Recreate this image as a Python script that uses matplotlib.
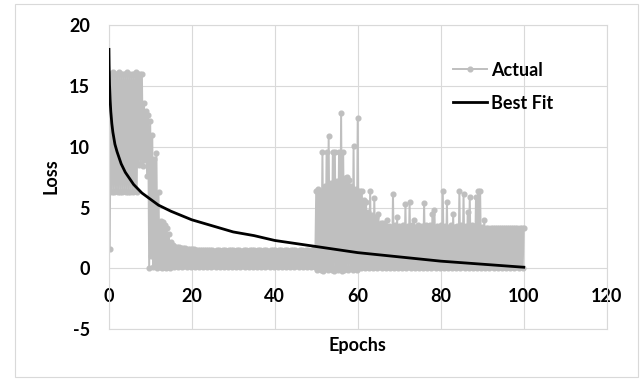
import numpy as np
import matplotlib
matplotlib.use('Agg')
import matplotlib.pyplot as plt
from matplotlib.patches import Rectangle

plt.rcParams['font.family'] = ['Lato', 'DejaVu Sans']
plt.rcParams['font.weight'] = 'bold'
plt.rcParams['axes.unicode_minus'] = False

# upper readings of the loss band, every half epoch from 0 to 100
hi_loss = [16.0, 16.0, 16.1, 16.0, 16.0, 16.1, 16.0, 16.0, 16.0, 16.1,
           16.0, 16.0, 16.0, 16.1, 16.0, 16.0, 16.0, 13.6, 12.9, 12.6,
           12.1, 11.0, 9.0, 9.5, 6.3, 3.9, 3.8, 3.6, 3.3, 2.8,
           2.2, 1.9, 1.8, 1.8, 1.8, 1.7, 1.7, 1.7, 1.6, 1.6,
           1.6, 1.6, 1.55, 1.55, 1.5, 1.5, 1.5, 1.5, 1.5, 1.5,
           1.5, 1.45, 1.5, 1.5, 1.45, 1.5, 1.5, 1.45, 1.5, 1.5,
           1.5, 1.45, 1.5, 1.5, 1.45, 1.5, 1.5, 1.45, 1.5, 1.5,
           1.5, 1.45, 1.5, 1.5, 1.45, 1.5, 1.5, 1.45, 1.5, 1.5,
           1.5, 1.45, 1.5, 1.5, 1.45, 1.5, 1.5, 1.45, 1.5, 1.5,
           1.5, 1.45, 1.5, 1.5, 1.45, 1.5, 1.5, 1.45, 1.5, 1.6,
           6.4, 6.5, 6.4, 9.6, 6.8, 9.6, 10.9, 7.0, 9.6, 9.6,
           7.2, 9.6, 12.8, 9.6, 7.4, 7.5, 7.3, 6.8, 10.1, 6.5,
           12.4, 6.4, 6.4, 5.6, 5.5, 4.6, 6.4, 4.4, 5.8, 4.2,
           4.5, 3.7, 3.7, 3.5, 4.0, 3.5, 3.4, 6.1, 3.6, 4.2,
           3.5, 3.4, 3.6, 5.3, 3.5, 5.5, 3.6, 4.0, 3.4, 3.6,
           3.4, 3.5, 5.4, 3.6, 3.4, 3.6, 4.5, 4.8, 3.5, 3.4,
           3.6, 6.4, 3.5, 5.5, 3.4, 3.6, 4.5, 3.4, 3.5, 6.4,
           3.6, 6.1, 3.5, 4.6, 5.9, 3.6, 3.5, 5.9, 6.4, 6.4,
           3.4, 4.0, 3.3, 3.3, 3.3, 3.3, 3.3, 3.3, 3.3, 3.3,
           3.3, 3.3, 3.3, 3.3, 3.3, 3.3, 3.3, 3.3, 3.3, 3.3,
           3.3]

# lower readings of the loss band, half way between the upper ones
lo_loss = [1.6, 6.3, 6.3, 6.4, 6.3, 6.3, 6.3, 6.4, 6.3, 6.3,
           6.3, 6.3, 6.4, 6.3, 8.5, 8.6, 8.4, 8.9, 7.6, 0.0,
           1.0, 0.1, 0.3, 0.0, 0.1, 0.0, 0.1, 0.0, 0.1, 0.0,
           0.2, 0.1, 0.2, 0.1, 0.2, 0.1, 0.2, 0.1, 0.2, 0.1,
           0.2, 0.1, 0.2, 0.1, 0.2, 0.1, 0.2, 0.1, 0.2, 0.1,
           0.2, 0.1, 0.2, 0.1, 0.2, 0.1, 0.2, 0.1, 0.2, 0.1,
           0.2, 0.1, 0.2, 0.1, 0.2, 0.1, 0.2, 0.1, 0.2, 0.1,
           0.2, 0.1, 0.2, 0.1, 0.2, 0.1, 0.2, 0.1, 0.2, 0.1,
           0.2, 0.1, 0.2, 0.1, 0.2, 0.1, 0.2, 0.1, 0.2, 0.1,
           0.2, 0.1, 0.2, 0.1, 0.2, 0.1, 0.2, 0.1, 0.2, 0.1,
           -0.1, 0.0, -0.1, -0.2, 0.0, -0.1, 0.0, -0.1, -0.2, 0.0,
           -0.1, 0.0, -0.2, -0.1, 0.0, -0.1, 0.0, -0.1, 0.0, -0.1,
           0.1, 0.0, 0.1, 0.0, 0.1, 0.0, 0.1, 0.0, 0.1, 0.0,
           0.1, 0.0, 0.1, 0.0, 0.1, 0.0, 0.1, 0.0, 0.1, 0.0,
           0.1, 0.0, 0.1, 0.0, 0.1, 0.0, 0.1, 0.0, 0.1, 0.0,
           0.1, 0.0, 0.1, 0.0, 0.1, 0.0, 0.1, 0.0, 0.1, 0.0,
           0.1, 0.0, 0.1, 0.0, 0.1, 0.0, 0.1, 0.0, 0.1, 0.0,
           0.1, 0.0, 0.1, 0.0, 0.1, 0.0, 0.1, 0.0, 0.1, 0.0,
           0.1, 0.0, 0.1, 0.0, 0.1, 0.0, 0.1, 0.0, 0.1, 0.0,
           0.1, 0.0, 0.1, 0.0, 0.1, 0.0, 0.1, 0.0, 0.1, 0.0]

fit_epochs = [0.06, 0.1, 0.2, 0.35, 0.5, 0.75, 1, 1.5, 2, 3, 4, 5, 6, 8, 10,
              12, 15, 20, 25, 30, 35, 40, 50, 60, 70, 80, 90, 100]
fit_loss = [18.0, 16.8, 15.1, 13.8, 12.9, 11.9, 11.2, 10.2, 9.6, 8.6, 7.9, 7.4,
            6.9, 6.2, 5.7, 5.2, 4.7, 4.0, 3.5, 3.0, 2.7, 2.3, 1.8, 1.3, 0.95,
            0.6, 0.35, 0.1]

# put the two readings together as one zig-zag series
epochs = np.empty(len(hi_loss) + len(lo_loss))
loss = np.empty(len(hi_loss) + len(lo_loss))
epochs[0::2] = np.arange(len(hi_loss)) * 0.5
epochs[1::2] = np.arange(len(lo_loss)) * 0.5 + 0.25
loss[0::2] = hi_loss
loss[1::2] = lo_loss

fig = plt.figure(figsize=(6.44, 3.79), dpi=100)
ax = fig.add_axes([0.1688, 0.1311, 0.7733, 0.8029])

ax.plot(epochs, loss, color='#bfbfbf', lw=1.4, marker='o', ms=3.4,
        label='Actual', zorder=2)
ax.plot(fit_epochs, fit_loss, color='black', lw=2.0, label='Best Fit', zorder=3)

ax.set_xlim(0, 120)
ax.set_ylim(-5, 20)
ax.set_xticks(range(0, 121, 20))
ax.set_yticks(range(-5, 21, 5))
ax.grid(color='#d9d9d9', lw=0.8)
ax.set_axisbelow(True)
for s in ax.spines.values():
    s.set_color('#d9d9d9')
    s.set_linewidth(0.8)

ax.tick_params(axis='x', length=0, pad=-29.5, labelsize=13)
ax.tick_params(axis='y', length=0, pad=13.5, labelsize=13)

ax.set_xlabel('Epochs', fontsize=13, fontweight='bold')
ax.xaxis.set_label_coords(0.5, -0.0516)
ax.xaxis.label.set_va('center')
ax.set_ylabel('Loss', fontsize=13, fontweight='bold')
ax.yaxis.set_label_coords(-0.115, 0.504)
ax.yaxis.label.set_va('center')

ax.legend(loc='upper left', bbox_to_anchor=(0.691, 0.88), frameon=False,
          fontsize=13, handlelength=1.9, handletextpad=0.2, labelspacing=0.9,
          borderpad=0, borderaxespad=0, numpoints=1)

fig.patches.append(Rectangle((15 / 644, 2 / 379), 623 / 644, 373 / 379,
                             transform=fig.transFigure, fill=False,
                             ec='#d9d9d9', lw=0.8))

fig.savefig('out.png', dpi=100)
